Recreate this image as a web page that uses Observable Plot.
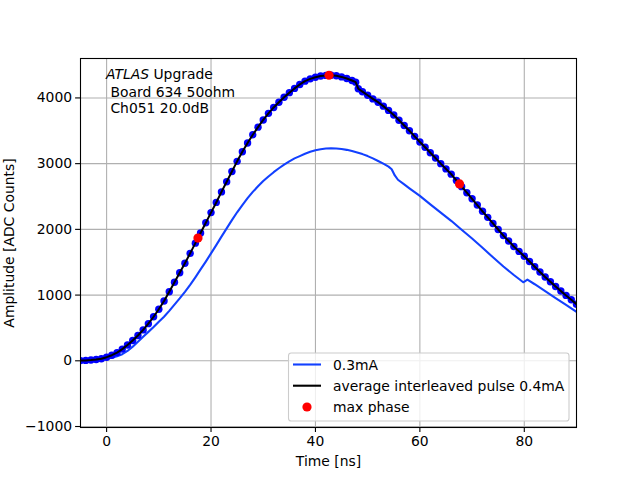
<!DOCTYPE html>
<html>
<head>
<meta charset="utf-8">
<script src="https://cdn.jsdelivr.net/npm/d3@7"></script>
<script src="https://cdn.jsdelivr.net/npm/@observablehq/plot@0.6"></script>
<style>
  html, body { margin: 0; padding: 0; background: white; }
  #chart { width: 640px; height: 480px; }
</style>
</head>
<body>
<div id="chart"></div>
<script>
// Average interleaved pulse 0.4mA (time in ns, amplitude in ADC counts)
const avgTime = [-5,-4,-3,-2,-1,0,1,2,3,4,5,6,7,8,9,10,11,12,13,14,15,16,17,18,19,20,21,22,23,24,25,26,27,28,29,30,31,32,33,34,35,36,37,38,39,40,41,42,43,44,45,46,47,47.7,48.2,49,50,51,52,53,54,55,56,57,58,59,60,61,62,63,64,65,66,67,68,69,70,71,72,73,74,75,76,77,78,79,80,81,82,83,84,85,86,87,88,89,90];
const avgAmp = [3,6,11,19,32,55,85,125,178,240,310,385,470,565,670,785,910,1050,1195,1340,1485,1635,1790,1945,2100,2255,2410,2570,2725,2880,3035,3180,3315,3440,3555,3665,3765,3855,3935,4010,4080,4145,4205,4255,4290,4315,4333,4343,4345,4337,4320,4295,4265,4240,4140,4095,4040,3985,3935,3875,3810,3740,3660,3580,3500,3415,3330,3250,3165,3085,3000,2920,2840,2745,2650,2558,2465,2370,2275,2183,2090,1998,1905,1822,1740,1665,1590,1510,1430,1352,1275,1202,1130,1062,995,928,860];

// 0.3mA pulse
const p03Time = [-5,-4,-3,-2,-1,0,1,2,3,4,5,6,7,8,9,10,11,12,13,14,15,16,17,18,19,20,21,22,23,24,25,26,27,28,29,30,31,32,33,34,35,36,37,38,39,40,41,42,43,44,45,46,47,48,49,50,51,52,53,54,54.6,55.2,55.8,57,58,60,62,64,66,68,70,72,74,76,78,79.8,80.6,82,84,86,88,90];
const p03Amp = [2,4,7,12,19,30,45,68,100,150,215,290,365,440,515,595,670,760,855,950,1050,1155,1270,1390,1510,1635,1760,1890,2015,2140,2260,2370,2475,2570,2655,2735,2805,2870,2930,2985,3035,3080,3115,3150,3180,3205,3220,3230,3233,3230,3222,3210,3192,3170,3145,3115,3080,3040,3000,2955,2915,2820,2755,2685,2625,2510,2380,2255,2130,1995,1860,1720,1575,1435,1305,1195,1235,1165,1060,955,850,745];

// Max phase points
const maxTime = [17.5, 42.6, 67.6];
const maxAmp = [1868, 4345, 2692];

const xTicks = [0, 20, 40, 60, 80];
const yTicks = [-1000, 0, 1000, 2000, 3000, 4000];

const legendLabels = ["0.3mA", "average interleaved pulse 0.4mA", "max phase"];
const infoLines = ["Board 634 50ohm", "Ch051 20.0dB"];

const avg = avgTime.map((t, i) => ({t, v: avgAmp[i]}));
const p03 = p03Time.map((t, i) => ({t, v: p03Amp[i]}));
const mx = maxTime.map((t, i) => ({t, v: maxAmp[i]}));

const FONT = "DejaVu Sans";
const FS = 13.9;
const BLUE_LINE = "#1240ff";
const BLUE_DOT = "#0000ff";

const chart = Plot.plot({
  width: 640,
  height: 480,
  marginLeft: 80,
  marginRight: 64,
  marginTop: 58,
  marginBottom: 53,
  style: {fontFamily: FONT, fontSize: FS + "px", background: "white", color: "black", overflow: "visible"},
  x: {domain: [-5, 90]},
  y: {domain: [-1015, 4600]},
  marks: [
    Plot.gridX(xTicks, {stroke: "#b0b0b0", strokeOpacity: 1, strokeWidth: 1.1}),
    Plot.gridY(yTicks, {stroke: "#b0b0b0", strokeOpacity: 1, strokeWidth: 1.1}),
    Plot.line(p03, {x: "t", y: "v", stroke: BLUE_LINE, strokeWidth: 2.1, clip: true}),
    Plot.dot(avg, {x: "t", y: "v", r: 3.7, fill: BLUE_DOT, stroke: "none", clip: true}),
    Plot.line(avg, {x: "t", y: "v", stroke: "black", strokeWidth: 2, clip: true}),
    Plot.dot(mx, {x: "t", y: "v", r: 4.6, fill: "#ff0000", stroke: "none", clip: true}),
    Plot.frame({stroke: "black", strokeWidth: 1.1}),
    Plot.axisX(xTicks, {tickSize: 4.9, tickPadding: 3.5, tickFormat: "d", label: "Time [ns]", labelAnchor: "center", labelArrow: "none", labelOffset: 38, strokeWidth: 1.1}),
    Plot.axisY(yTicks, {tickSize: 4.9, tickPadding: 3.5, tickFormat: "d", label: "Amplitude [ADC Counts]", labelAnchor: "center", labelArrow: "none", labelOffset: 76, strokeWidth: 1.1})
  ]
});

document.getElementById("chart").appendChild(chart);

// Annotation and legend (overlay in pixel space)
const svg = d3.select(chart);
const ann = svg.append("g").attr("font-family", FONT).attr("font-size", FS).attr("fill", "black").attr("text-anchor", "start");
const t1 = ann.append("text").attr("x", 106).attr("y", 79).attr("text-anchor", "start");
t1.append("tspan").attr("font-style", "italic").text("ATLAS");
t1.append("tspan").attr("dx", 4.4).text("Upgrade");
infoLines.forEach((s, i) => {
  ann.append("text").attr("x", 110.4).attr("y", 96.5 + i * 16.5).attr("text-anchor", "start").text(s);
});

const lg = svg.append("g").attr("font-family", FONT).attr("font-size", FS).attr("text-anchor", "start");
lg.append("rect").attr("x", 288.5).attr("y", 353).attr("width", 280.5).attr("height", 68)
  .attr("rx", 2.8).attr("fill", "white").attr("fill-opacity", 0.8).attr("stroke", "#cccccc").attr("stroke-width", 1.1);
const rows = [364.5, 385.7, 407];
lg.append("line").attr("x1", 293).attr("x2", 321).attr("y1", rows[0]).attr("y2", rows[0]).attr("stroke", BLUE_LINE).attr("stroke-width", 2.1);
lg.append("line").attr("x1", 293).attr("x2", 321).attr("y1", rows[1]).attr("y2", rows[1]).attr("stroke", "black").attr("stroke-width", 2.1);
lg.append("circle").attr("cx", 307).attr("cy", rows[2]).attr("r", 4.6).attr("fill", "#ff0000");
legendLabels.forEach((s, i) => {
  lg.append("text").attr("x", 333).attr("y", rows[i] + 5).attr("fill", "black").attr("text-anchor", "start").text(s);
});
</script>
</body>
</html>
